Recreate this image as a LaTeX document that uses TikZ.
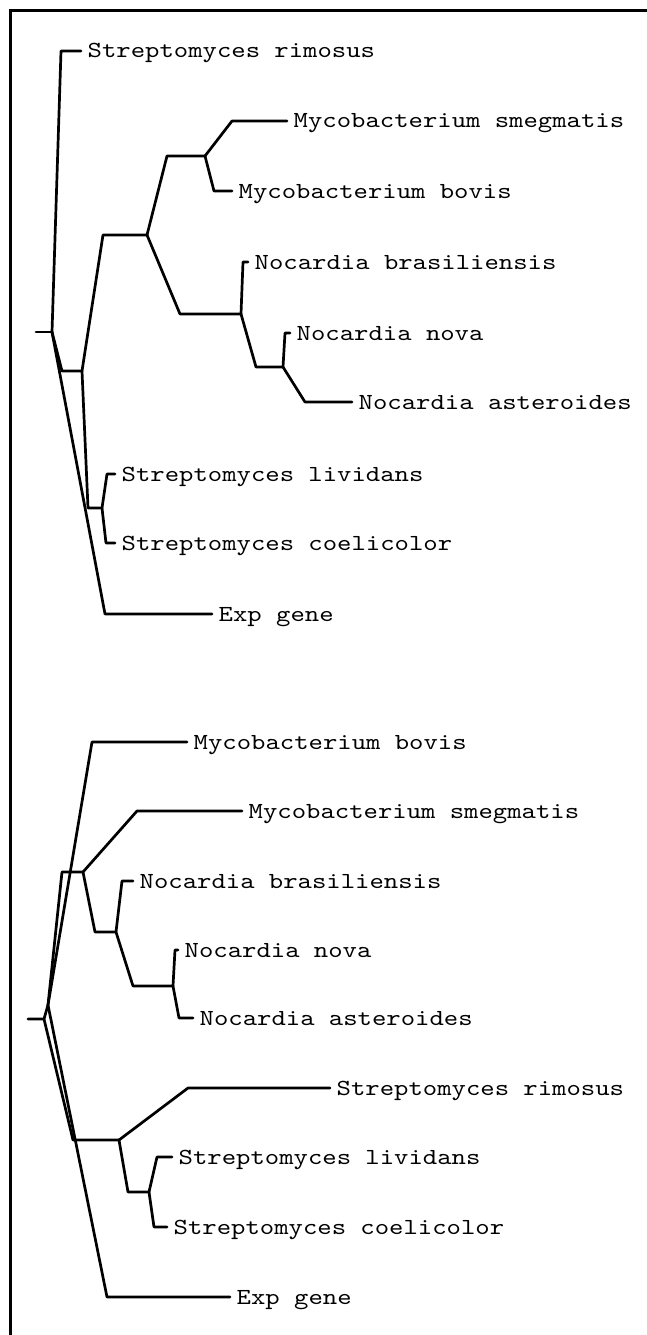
\documentclass[tikz,border=0pt]{standalone}
\usepackage{fontspec}
\newfontfamily\treefont[FakeStretch=1.19]{lmmono10-regular.otf}
\usetikzlibrary{positioning}
\tikzset{
  branch/.style={line width=2.7pt, line cap=round, line join=round},
  frameln/.style={line width=2.8pt},
  taxon/.style={font=\treefont\fontsize{23}{28}\selectfont, inner sep=0pt,
    text height=14pt, text depth=0pt, right=6.5pt of #1},
}
% a leaf: slanted branch from the parent, short horizontal, then the name
\newcommand{\taxonleaf}[5]{%
  \coordinate (#2c) at #3;
  \coordinate (#2e) at #4;
  \draw[branch] (#1) -- (#2c) -- (#2e);
  \node[taxon=#2e] (#2) {#5};
}

\begin{document}
\begin{tikzpicture}[x=1pt, y=-1pt]
  \useasboundingbox (0,0) rectangle (646,1335);
  % frame (only top and left edges show)
  \coordinate (frBL) at (10.5,1340);
  \coordinate (frTL) at (10.5,10.5);
  \coordinate (frTR) at (650,10.5);
  \draw[frameln] (frBL) -- (frTL) -- (frTR);

  % upper tree
  \coordinate (tStub) at (36,332);
  \coordinate (tR) at (52,332);
  \draw[branch] (tStub) -- (tR);
  \taxonleaf{tR}{tRim}{(61,51)}{(81,51)}{Streptomyces rimosus}
  \coordinate (tA) at (62,371);
  \coordinate (tAe) at (82,371);
  \draw[branch] (tR) -- (tA) -- (tAe);
  \taxonleaf{tR}{tExp}{(105,614)}{(212,614)}{Exp gene}
  % actinomycete clade
  \coordinate (tB) at (103,235);
  \coordinate (tBe) at (147,235);
  \draw[branch] (tAe) -- (tB) -- (tBe);
  \coordinate (tM) at (167,156);
  \coordinate (tMe) at (205,156);
  \draw[branch] (tBe) -- (tM) -- (tMe);
  \taxonleaf{tMe}{tSmeg}{(232,121)}{(287,121)}{Mycobacterium smegmatis}
  \taxonleaf{tMe}{tBov}{(214,191)}{(232,191)}{Mycobacterium bovis}
  \coordinate (tN) at (180,314);
  \coordinate (tNe) at (241,314);
  \draw[branch] (tBe) -- (tN) -- (tNe);
  \taxonleaf{tNe}{tBras}{(243,262)}{(248,262)}{Nocardia brasiliensis}
  \coordinate (tN2) at (256,367);
  \coordinate (tN2e) at (283,367);
  \draw[branch] (tNe) -- (tN2) -- (tN2e);
  \taxonleaf{tN2e}{tNova}{(285,333)}{(290,333)}{Nocardia nova}
  \taxonleaf{tN2e}{tAst}{(305,402)}{(352,402)}{Nocardia asteroides}
  % streptomyces pair
  \coordinate (tS) at (88,508);
  \coordinate (tSe) at (102,508);
  \draw[branch] (tAe) -- (tS) -- (tSe);
  \taxonleaf{tSe}{tLiv}{(107,474)}{(115,474)}{Streptomyces lividans}
  \taxonleaf{tSe}{tCoel}{(106,543)}{(115,543)}{Streptomyces coelicolor}

  % lower tree
  \coordinate (bStub) at (28,1019);
  \coordinate (bR) at (44,1019);
  \coordinate (bP) at (48,1005);
  \draw[branch] (bStub) -- (bR) -- (bP);
  \taxonleaf{bP}{bBov}{(92,742)}{(187,742)}{Mycobacterium bovis}
  \coordinate (bA) at (62,872);
  \coordinate (bAe) at (83,872);
  \draw[branch] (bP) -- (bA) -- (bAe);
  \taxonleaf{bAe}{bSmeg}{(137,811)}{(242,811)}{Mycobacterium smegmatis}
  \coordinate (bN) at (95,932);
  \coordinate (bNe) at (116,932);
  \draw[branch] (bAe) -- (bN) -- (bNe);
  \taxonleaf{bNe}{bBras}{(122,881)}{(133,881)}{Nocardia brasiliensis}
  \coordinate (bN2) at (133,986);
  \coordinate (bN2e) at (173,986);
  \draw[branch] (bNe) -- (bN2) -- (bN2e);
  \taxonleaf{bN2e}{bNova}{(175,950)}{(178,950)}{Nocardia nova}
  \taxonleaf{bN2e}{bAst}{(179,1018)}{(193,1018)}{Nocardia asteroides}
  \coordinate (bS) at (73,1140);
  \coordinate (bSe) at (119,1140);
  \draw[branch] (bR) -- (bS) -- (bSe);
  \taxonleaf{bSe}{bRim}{(188,1088)}{(330,1088)}{Streptomyces rimosus}
  \coordinate (bS2) at (128,1192);
  \coordinate (bS2e) at (149,1192);
  \draw[branch] (bSe) -- (bS2) -- (bS2e);
  \taxonleaf{bS2e}{bLiv}{(157,1157)}{(172,1157)}{Streptomyces lividans}
  \taxonleaf{bS2e}{bCoel}{(154,1227)}{(167,1227)}{Streptomyces coelicolor}
  \taxonleaf{bP}{bExp}{(107,1297)}{(230,1297)}{Exp gene}
\end{tikzpicture}
\end{document}
